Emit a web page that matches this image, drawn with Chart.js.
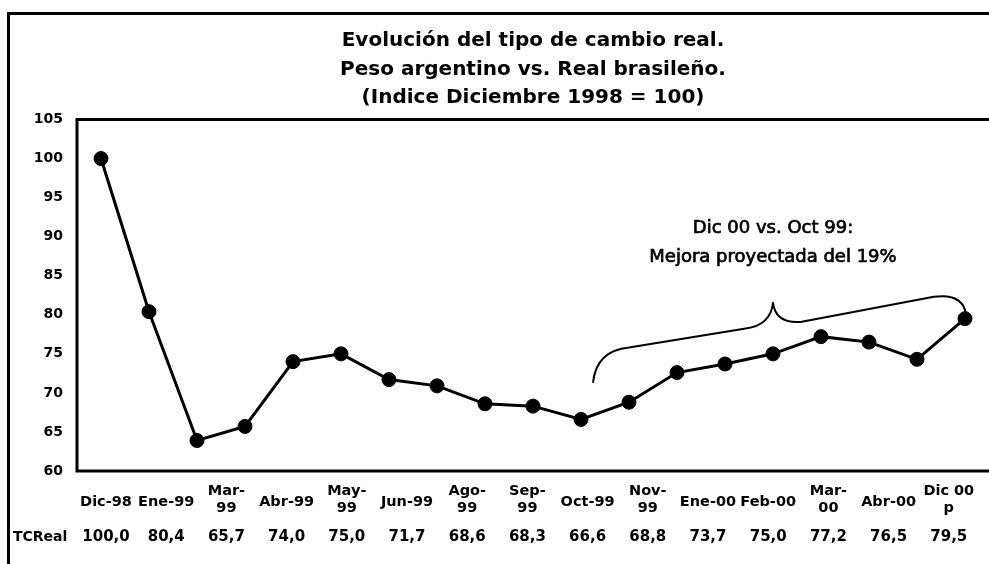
<!DOCTYPE html>
<html>
<head>
<meta charset="utf-8">
<script src="https://cdn.jsdelivr.net/npm/chart.js@4/dist/chart.umd.min.js"></script>
<style>
    html, body { margin: 0; padding: 0; background: #fff; }
    #caja { width: 989px; height: 564px; }
</style>
</head>
<body>
<div id="caja"><canvas id="tipo_cambio" width="989" height="564"></canvas></div>
<script>
// serie graficada (mensual)
const meses = ['Dic-98', 'Ene-99', 'Feb-99', 'Mar-99', 'Abr-99', 'May-99', 'Jun-99', 'Jul-99', 'Ago-99', 'Sep-99',
               'Oct-99', 'Nov-99', 'Dic-99', 'Ene-00', 'Feb-00', 'Mar-00', 'Abr-00', 'May-00', 'Dic-00 p'];
const tcreal = [100.0, 80.4, 63.9, 65.7, 74.0, 75.0, 71.7, 70.9, 68.6, 68.3,
                66.6, 68.8, 72.6, 73.7, 75.0, 77.2, 76.5, 74.3, 79.5];

// tabla de abajo
const etiquetas_tabla = [['Dic-98'], ['Ene-99'], ['Mar-', '99'], ['Abr-99'], ['May-', '99'], ['Jun-99'], ['Ago-', '99'],
                         ['Sep-', '99'], ['Oct-99'], ['Nov-', '99'], ['Ene-00'], ['Feb-00'], ['Mar-', '00'], ['Abr-00'], ['Dic 00', 'p']];
const valores_tabla = ['100,0', '80,4', '65,7', '74,0', '75,0', '71,7', '68,6', '68,3', '66,6', '68,8', '73,7', '75,0', '77,2', '76,5', '79,5'];

const eje_y_min = 60;
const eje_y_max = 105;
const eje_y_paso = 5;

const titulo = ['Evolución del tipo de cambio real.', 'Peso argentino vs. Real brasileño.', '(Indice Diciembre 1998 = 100)'];
const nota = ['Dic 00 vs. Oct 99:', 'Mejora proyectada del 19%'];

// llave de la nota, en unidades de los ejes (indice, valor)
const llave = {
    inicio: [10.25, 71.3], c1: [10.32, 75.4], p1: [11.0, 75.8],
    p2: [13.4, 78.2], c2: [13.96, 78.6], punta: [14.0, 81.6],
    c3: [14.05, 78.8], p3: [14.6, 79.1], p4: [17.35, 82.3], c4: [17.95, 82.8], fin: [18.02, 80.1]
};

const fuente = 'DejaVu Sans';
Chart.defaults.color = '#000';
Chart.defaults.font.family = fuente;

const extras = {
    id: 'extras',
    afterDatasetsDraw(chart) {
        const ctx = chart.ctx;
        const a = chart.chartArea;
        const sx = chart.scales.x, sy = chart.scales.y;
        const px = p => [sx.getPixelForValue(p[0]), sy.getPixelForValue(p[1])];
        ctx.save();
        ctx.strokeStyle = '#000';
        ctx.fillStyle = '#000';

        // marco exterior
        ctx.lineWidth = 3;
        ctx.beginPath();
        ctx.moveTo(8.5, 564);
        ctx.lineTo(8.5, 13.5);
        ctx.lineTo(989, 13.5);
        ctx.stroke();

        // borde del area de grafico
        ctx.beginPath();
        ctx.moveTo(a.right, a.top);
        ctx.lineTo(a.left, a.top);
        ctx.lineTo(a.left, a.bottom);
        ctx.lineTo(a.right, a.bottom);
        ctx.stroke();

        // llave
        ctx.lineWidth = 2;
        ctx.beginPath();
        ctx.moveTo(...px(llave.inicio));
        ctx.quadraticCurveTo(...px(llave.c1), ...px(llave.p1));
        ctx.lineTo(...px(llave.p2));
        ctx.quadraticCurveTo(...px(llave.c2), ...px(llave.punta));
        ctx.quadraticCurveTo(...px(llave.c3), ...px(llave.p3));
        ctx.lineTo(...px(llave.p4));
        ctx.quadraticCurveTo(...px(llave.c4), ...px(llave.fin));
        ctx.stroke();

        // nota (un poco engrosada, como en el original)
        ctx.font = '18px "' + fuente + '"';
        ctx.textAlign = 'center';
        ctx.textBaseline = 'middle';
        ctx.lineWidth = 0.7;
        const xn = sx.getPixelForValue(14);
        [91.1, 87.4].forEach(function(v, i) {
            ctx.fillText(nota[i], xn, sy.getPixelForValue(v));
            ctx.strokeText(nota[i], xn, sy.getPixelForValue(v));
        });

        // tabla
        const x0 = 106, ancho_col = 60.2;
        ctx.font = 'bold 14.5px "' + fuente + '"';
        for (let i = 0; i < etiquetas_tabla.length; i++) {
            const lineas = etiquetas_tabla[i];
            const x = x0 + ancho_col * i;
            if (lineas.length == 1) {
                ctx.fillText(lineas[0], x, 502);
            } else {
                ctx.fillText(lineas[0], x, 491);
                ctx.fillText(lineas[1], x, 508);
            }
        }
        ctx.font = 'bold 15px "' + fuente + '"';
        for (let i = 0; i < valores_tabla.length; i++) {
            ctx.fillText(valores_tabla[i], x0 + ancho_col * i, 537);
        }
        ctx.font = 'bold 14px "' + fuente + '"';
        ctx.textAlign = 'left';
        ctx.fillText('TCReal', 13, 537);
        ctx.restore();
    }
};

const ctx = document.getElementById('tipo_cambio').getContext('2d');
const myChart = new Chart(ctx, {
    type: 'line',
    data: {
        labels: meses,
        datasets: [{
            label: 'TCReal',
            data: tcreal,
            borderColor: '#000',
            backgroundColor: '#000',
            borderWidth: 3,
            pointBackgroundColor: '#000',
            pointBorderColor: '#000',
            pointBorderWidth: 1,
            pointRadius: 7,
            fill: false,
            tension: 0
        }]
    },
    options: {
        responsive: false,
        animation: false,
        layout: { autoPadding: false, padding: { top: 13, left: 17, right: 0, bottom: 93 } },
        plugins: {
            legend: { display: false },
            tooltip: { enabled: false },
            title: {
                display: true,
                fullSize: false,
                text: titulo,
                font: { family: fuente, size: 20, weight: 'bold', lineHeight: 1.425 },
                padding: { top: 14, bottom: 7 }
            }
        },
        scales: {
            x: {
                display: false,
                offset: true
            },
            y: {
                min: eje_y_min,
                max: eje_y_max,
                afterFit: function(scale) { scale.width = 60; },
                grid: { display: false, drawTicks: false },
                border: { display: false },
                ticks: {
                    stepSize: eje_y_paso,
                    padding: 14,
                    font: { family: fuente, size: 14, weight: 'bold' }
                }
            }
        }
    },
    plugins: [extras]
});
</script>
</body>
</html>
